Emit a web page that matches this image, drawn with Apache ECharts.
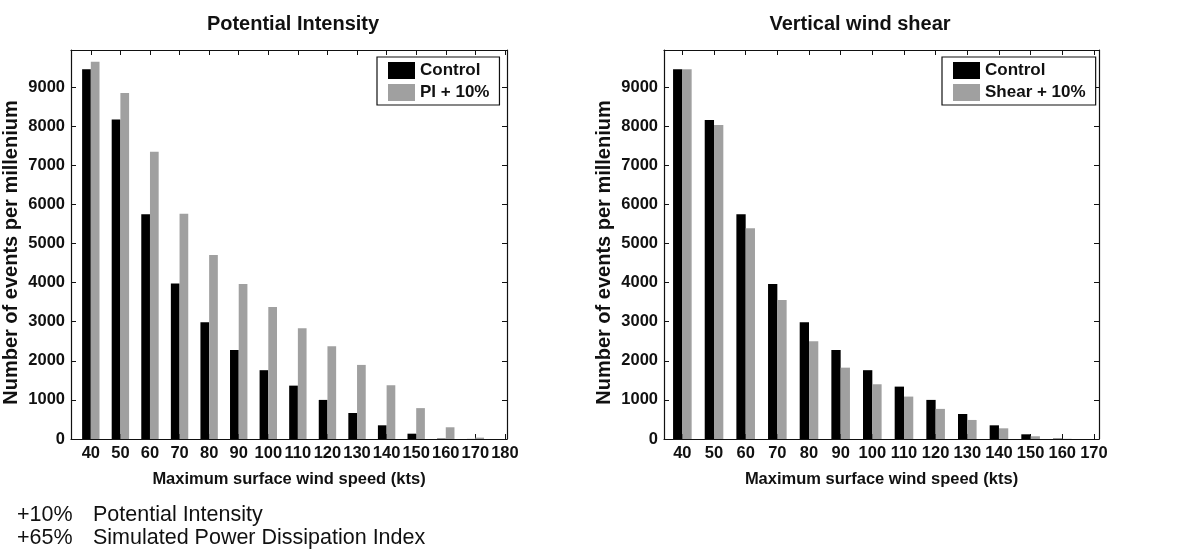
<!DOCTYPE html>
<html>
<head>
<meta charset="utf-8">
<script src="https://cdn.jsdelivr.net/npm/echarts@6.0.0/dist/echarts.min.js"></script>
<style>
  html, body { margin: 0; padding: 0; background: #fff; }
  #main { width: 1189px; height: 556px; }
</style>
</head>
<body>
<div id="main"></div>
<script>
  // wind speed bins (kts)
  var speedsPI = [40, 50, 60, 70, 80, 90, 100, 110, 120, 130, 140, 150, 160, 170, 180];
  var speedsShear = [40, 50, 60, 70, 80, 90, 100, 110, 120, 130, 140, 150, 160, 170];
  // events per millenium
  var controlPI = [9460, 8170, 5750, 3980, 2985, 2275, 1760, 1365, 1000, 665, 350, 136, 10, 2, 0];
  var piPlus10 = [9650, 8850, 7350, 5760, 4705, 3965, 3375, 2830, 2370, 1895, 1375, 790, 300, 35, 0];
  var controlShear = [9460, 8160, 5750, 3965, 2985, 2275, 1760, 1340, 1000, 640, 350, 120, 10, 0];
  var shearPlus10 = [9460, 8030, 5390, 3555, 2500, 1825, 1400, 1085, 770, 487, 273, 70, 5, 0];
  var yTicks = [0, 1000, 2000, 3000, 4000, 5000, 6000, 7000, 8000, 9000];

  var FONT = 'Liberation Sans, Arial, sans-serif';
  var BLACK = '#000000';
  var GREY = '#a0a0a0';
  var INK = '#111';

  function pairs(xs, ys) {
    return xs.map(function (x, i) { return [x, ys[i]]; });
  }

  function plain(v) { return String(v); }

  function xAxes(grid, min, max, ticks) {
    var line = { onZero: false, lineStyle: { color: INK, width: 1.2 } };
    return [{
      type: 'value', gridIndex: grid, position: 'bottom', min: min, max: max,
      axisLine: line,
      axisTick: { inside: true, length: 5, customValues: ticks, lineStyle: { color: INK } },
      axisLabel: { customValues: ticks, formatter: plain, margin: 6, color: INK, fontFamily: FONT, fontWeight: 'bold', fontSize: 16.5 },
      splitLine: { show: false },
      name: 'Maximum surface wind speed (kts)', nameLocation: 'middle', nameGap: 32,
      nameTextStyle: { color: INK, fontFamily: FONT, fontWeight: 'bold', fontSize: 16.5 }
    }, {
      type: 'value', gridIndex: grid, position: 'top', min: min, max: max,
      axisLine: line,
      axisTick: { inside: true, length: 5, customValues: ticks, lineStyle: { color: INK } },
      axisLabel: { show: false },
      splitLine: { show: false }
    }];
  }

  function yAxes(grid) {
    var line = { show: true, onZero: false, lineStyle: { color: INK, width: 1.2 } };
    return [{
      type: 'value', gridIndex: grid, position: 'left', min: 0, max: 9950,
      axisLine: line,
      axisTick: { show: true, inside: true, length: 5, customValues: yTicks, lineStyle: { color: INK } },
      axisLabel: { customValues: yTicks, formatter: plain, margin: 6, color: INK, fontFamily: FONT, fontWeight: 'bold', fontSize: 16.5 },
      splitLine: { show: false },
      name: 'Number of events per millenium', nameLocation: 'middle', nameRotate: 90, nameGap: 50,
      nameTextStyle: { color: INK, fontFamily: FONT, fontWeight: 'bold', fontSize: 20, padding: [0, 16, 0, 0] }
    }, {
      type: 'value', gridIndex: grid, position: 'right', min: 0, max: 9950,
      axisLine: line,
      axisTick: { show: true, inside: true, length: 5, customValues: yTicks, lineStyle: { color: INK } },
      axisLabel: { show: false },
      splitLine: { show: false }
    }];
  }

  function bars(name, xs, ys, color, idx, width) {
    return {
      name: name, type: 'bar', xAxisIndex: idx, yAxisIndex: idx,
      data: pairs(xs, ys), barWidth: width, barGap: '0%',
      itemStyle: { color: color }, silent: true
    };
  }

  function legend(left, names) {
    return {
      left: left, top: 57, orient: 'vertical',
      data: names, itemWidth: 27, itemHeight: 17, itemGap: 5,
      padding: [5, 10, 4, 11], borderColor: INK, borderWidth: 1.2, borderRadius: 0,
      backgroundColor: '#fff', selectedMode: false,
      icon: 'rect',
      textStyle: { color: INK, fontFamily: FONT, fontWeight: 'bold', fontSize: 17 }
    };
  }

  var chart = echarts.init(document.getElementById('main'));
  chart.setOption({
    animation: false,
    backgroundColor: '#fff',
    title: [
      { text: 'Potential Intensity', left: 288, top: 9, textAlign: 'center',
        textStyle: { color: INK, fontFamily: FONT, fontWeight: 'bold', fontSize: 20 } },
      { text: 'Vertical wind shear', left: 855, top: 9, textAlign: 'center',
        textStyle: { color: INK, fontFamily: FONT, fontWeight: 'bold', fontSize: 20 } }
    ],
    legend: [legend(377, ['Control', 'PI + 10%']), legend(942, ['Control', 'Shear + 10%'])],
    grid: [
      { left: 69, right: 682, top: 50, bottom: 117 },
      { left: 664, right: 90, top: 50, bottom: 117 }
    ],
    xAxis: xAxes(0, 33.3, 180.7, speedsPI).concat(xAxes(1, 34.2, 171.6, speedsShear)),
    yAxis: yAxes(0).concat(yAxes(1)),
    series: [
      bars('Control', speedsPI, controlPI, BLACK, 0, 8.7),
      bars('PI + 10%', speedsPI, piPlus10, GREY, 0, 8.7),
      bars('Control', speedsShear, controlShear, BLACK, 2, 9.3),
      bars('Shear + 10%', speedsShear, shearPlus10, GREY, 2, 9.3)
    ],
    graphic: [
      { type: 'text', left: 17, top: 504, style: { text: '+10%', fill: INK, font: '21.5px ' + FONT } },
      { type: 'text', left: 93, top: 504, style: { text: 'Potential Intensity', fill: INK, font: '21.5px ' + FONT } },
      { type: 'text', left: 17, top: 527, style: { text: '+65%', fill: INK, font: '21.5px ' + FONT } },
      { type: 'text', left: 93, top: 527, style: { text: 'Simulated Power Dissipation Index', fill: INK, font: '21.5px ' + FONT } }
    ]
  });
</script>
</body>
</html>
